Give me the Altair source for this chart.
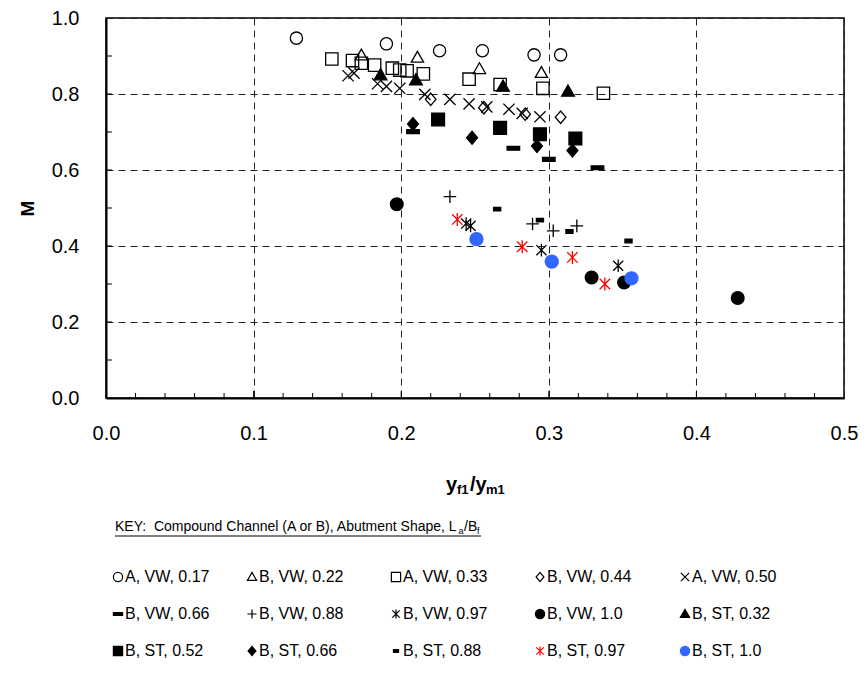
import altair as alt
import pandas as pd

# ---------------- data ----------------
series_names = [
    "A, VW, 0.17", "B, VW, 0.22", "A, VW, 0.33", "B, VW, 0.44", "A, VW, 0.50",
    "B, VW, 0.66", "B, VW, 0.88", "B, VW, 0.97", "B, VW, 1.0", "B, ST, 0.32",
    "B, ST, 0.52", "B, ST, 0.66", "B, ST, 0.88", "B, ST, 0.97", "B, ST, 1.0",
]

x_a_vw_017 = [0.129, 0.190, 0.226, 0.255, 0.290, 0.308]
y_a_vw_017 = [0.947, 0.932, 0.914, 0.914, 0.903, 0.903]

x_b_vw_022 = [0.173, 0.211, 0.253, 0.295]
y_b_vw_022 = [0.902, 0.896, 0.866, 0.856]

x_a_vw_033 = [0.153, 0.167, 0.173, 0.182, 0.194, 0.199, 0.204, 0.215, 0.246, 0.267, 0.296, 0.337]
y_a_vw_033 = [0.892, 0.888, 0.881, 0.876, 0.868, 0.863, 0.861, 0.853, 0.839, 0.825, 0.815, 0.802]

x_b_vw_044 = [0.220, 0.256, 0.284, 0.308]
y_b_vw_044 = [0.786, 0.764, 0.747, 0.739]

x_a_vw_050 = [0.164, 0.168, 0.184, 0.190, 0.199, 0.216, 0.233, 0.246, 0.258, 0.273, 0.282, 0.294]
y_a_vw_050 = [0.848, 0.855, 0.827, 0.820, 0.815, 0.799, 0.786, 0.774, 0.766, 0.760, 0.749, 0.740]

x_b_vw_066 = [0.208, 0.276, 0.300, 0.333]
y_b_vw_066 = [0.701, 0.657, 0.628, 0.606]

x_b_vw_088 = [0.233, 0.289, 0.303, 0.319]
y_b_vw_088 = [0.530, 0.458, 0.440, 0.453]

x_b_vw_097 = [0.244, 0.247, 0.295, 0.347]
y_b_vw_097 = [0.459, 0.453, 0.389, 0.348]

x_b_vw_100 = [0.197, 0.329, 0.351, 0.428]
y_b_vw_100 = [0.510, 0.317, 0.304, 0.263]

x_b_st_032 = [0.186, 0.210, 0.269, 0.313]
y_b_st_032 = [0.850, 0.837, 0.820, 0.807]

x_b_st_052 = [0.225, 0.267, 0.294, 0.318]
y_b_st_052 = [0.733, 0.711, 0.694, 0.683]

x_b_st_066 = [0.208, 0.248, 0.292, 0.316]
y_b_st_066 = [0.721, 0.685, 0.663, 0.651]

x_b_st_088 = [0.265, 0.294, 0.314, 0.354]
y_b_st_088 = [0.497, 0.468, 0.438, 0.413]

x_b_st_097 = [0.238, 0.282, 0.316, 0.338]
y_b_st_097 = [0.470, 0.398, 0.370, 0.300]

x_b_st_100 = [0.251, 0.302, 0.356]
y_b_st_100 = [0.418, 0.359, 0.315]

all_x = [x_a_vw_017, x_b_vw_022, x_a_vw_033, x_b_vw_044, x_a_vw_050, x_b_vw_066, x_b_vw_088,
         x_b_vw_097, x_b_vw_100, x_b_st_032, x_b_st_052, x_b_st_066, x_b_st_088, x_b_st_097, x_b_st_100]
all_y = [y_a_vw_017, y_b_vw_022, y_a_vw_033, y_b_vw_044, y_a_vw_050, y_b_vw_066, y_b_vw_088,
         y_b_vw_097, y_b_vw_100, y_b_st_032, y_b_st_052, y_b_st_066, y_b_st_088, y_b_st_097, y_b_st_100]

x_tick_labels = [0.0, 0.1, 0.2, 0.3, 0.4, 0.5]
y_tick_labels = [0.0, 0.2, 0.4, 0.6, 0.8, 1.0]
x_minor_ticks = [0.02, 0.04, 0.06, 0.08, 0.12, 0.14, 0.16, 0.18, 0.22, 0.24, 0.26, 0.28,
                 0.32, 0.34, 0.36, 0.38, 0.42, 0.44, 0.46, 0.48]
x_major_ticks = [0.1, 0.2, 0.3, 0.4]
y_ticks = [0.1, 0.2, 0.3, 0.4, 0.5, 0.6, 0.7, 0.8, 0.9]

rows = []
for order, (name, xs, ys) in enumerate(zip(series_names, all_x, all_y)):
    for xv, yv in zip(xs, ys):
        rows.append({"series": name, "x": xv, "y": yv, "order": order})
df = pd.DataFrame(rows)

# ---------------- styles ----------------
TRI = "M0,-1L1,0.75L-1,0.75Z"
DIA = "M0,-1L0.85,0L0,1L-0.85,0Z"
XSH = "M-0.9,-0.9L0.9,0.9M-0.9,0.9L0.9,-0.9"
LDASH = "M-1,-0.3L1,-0.3L1,0.3L-1,0.3Z"
PLUS = "M-1,0L1,0M0,-1L0,1"
AST = "M0,-1L0,1M-0.8,-0.8L0.8,0.8M-0.8,0.8L0.8,-0.8"
SDASH = "M-0.55,-0.28L0.55,-0.28L0.55,0.28L-0.55,0.28Z"

shape_range = ["circle", TRI, "square", DIA, XSH, LDASH, PLUS, AST, "circle", TRI,
               "square", DIA, SDASH, AST, "circle"]
T = "transparent"
fill_range = [T, T, T, T, T, "black", T, T, "black", "black", "black", "black", "black", T, "#3366FF"]
stroke_range = ["black"] * 13 + ["#FF0000", "#3366FF"]
size_range = [150, 170, 170, 150, 150, 170, 150, 150, 160, 170, 170, 150, 170, 150, 160]

# legend grid (pixel layout of the key below the plot)
legend_col_x = [12, 146, 290, 434, 579]
legend_row_y = [559, 596, 633]

FONT = "Liberation Sans"
W, H = 738, 380

shape_scale = alt.Scale(domain=series_names, range=shape_range)
fill_scale = alt.Scale(domain=series_names, range=fill_range)
stroke_scale = alt.Scale(domain=series_names, range=stroke_range)

xscale = alt.Scale(domain=[0, 0.5], nice=False, zero=False)
yscale = alt.Scale(domain=[0, 1.0], nice=False, zero=False)

points = alt.Chart(df).mark_point(opacity=1, strokeWidth=1.3).encode(
    x=alt.X("x:Q", scale=xscale, axis=alt.Axis(
        values=x_tick_labels, format=".1f", title=None, ticks=False,
        grid=True, gridDash=[7, 5], gridColor="#222", gridWidth=1,
        labelFontSize=20, labelFont=FONT, labelColor="black", labelPadding=25,
        domainColor="black", domainWidth=2, labelFlush=False)),
    y=alt.Y("y:Q", scale=yscale, axis=alt.Axis(
        values=y_tick_labels, format=".1f", title="M", ticks=False,
        grid=True, gridDash=[7, 5], gridColor="#222", gridWidth=1,
        labelFontSize=20, labelFont=FONT, labelColor="black", labelPadding=27,
        domainColor="black", domainWidth=2, labelFlush=False,
        titleFont=FONT, titleFontSize=19, titleFontWeight="bold", titleColor="black",
        titlePadding=14)),
    shape=alt.Shape("series:N", scale=shape_scale, legend=None),
    fill=alt.Fill("series:N", scale=fill_scale, legend=None),
    stroke=alt.Stroke("series:N", scale=stroke_scale, legend=None),
    size=alt.Size("series:N", scale=alt.Scale(domain=series_names, range=size_range), legend=None),
    order=alt.Order("order:Q"),
)

minor = alt.Chart(pd.DataFrame({"t": x_minor_ticks})).mark_rule(color="black", strokeWidth=1).encode(
    x=alt.X("t:Q", scale=xscale), y=alt.value(H), y2=alt.value(H - 5))
major = alt.Chart(pd.DataFrame({"t": x_major_ticks})).mark_rule(color="black", strokeWidth=1).encode(
    x=alt.X("t:Q", scale=xscale), y=alt.value(H), y2=alt.value(H - 7))
yt = alt.Chart(pd.DataFrame({"t": y_ticks})).mark_rule(color="black", strokeWidth=1).encode(
    y=alt.Y("t:Q", scale=yscale), x=alt.value(0), x2=alt.value(6))

# ---- key (legend) built from the series list ----
leg_rows = []
for i, name in enumerate(series_names):
    leg_rows.append({"series": name, "px": legend_col_x[i % 5], "py": legend_row_y[i // 5],
                     "tx": legend_col_x[i % 5] + 7})
leg_df = pd.DataFrame(leg_rows)
leg_sym = alt.Chart(leg_df).mark_point(opacity=1, strokeWidth=1.2, size=85).encode(
    x=alt.X("px:Q", scale=None), y=alt.Y("py:Q", scale=None),
    shape=alt.Shape("series:N", scale=shape_scale, legend=None),
    fill=alt.Fill("series:N", scale=fill_scale, legend=None),
    stroke=alt.Stroke("series:N", scale=stroke_scale, legend=None),
)
leg_txt = alt.Chart(leg_df).mark_text(font=FONT, fontSize=16, align="left", baseline="middle",
                                      color="black").encode(
    x=alt.X("tx:Q", scale=None), y=alt.Y("py:Q", scale=None), text="series:N")

# axis title with subscripts and key title
texts = pd.DataFrame([
    {"txt": "y", "px": 340, "py": 467},
    {"txt": "/y", "px": 364, "py": 467},
])
subs = pd.DataFrame([
    {"txt": "f1", "px": 351, "py": 472},
    {"txt": "m1", "px": 380, "py": 472},
])
xt_big = alt.Chart(texts).mark_text(font=FONT, fontWeight="bold", fontSize=20, align="left",
                                    baseline="middle", color="black").encode(
    x=alt.X("px:Q", scale=None), y=alt.Y("py:Q", scale=None), text="txt:N")
xt_sub = alt.Chart(subs).mark_text(font=FONT, fontWeight="bold", fontSize=13, align="left",
                                   baseline="middle", color="black").encode(
    x=alt.X("px:Q", scale=None), y=alt.Y("py:Q", scale=None), text="txt:N")

key_main = pd.DataFrame([
    {"txt": "KEY:\u00a0 Compound Channel (A or B), Abutment Shape, L", "px": 9, "py": 509},
    {"txt": "/B", "px": 358, "py": 509},
])
key_sub = pd.DataFrame([
    {"txt": "a", "px": 352.5, "py": 513},
    {"txt": "f", "px": 371, "py": 513},
])
k1 = alt.Chart(key_main).mark_text(font=FONT, fontSize=14, align="left", baseline="middle",
                                   color="black").encode(
    x=alt.X("px:Q", scale=None), y=alt.Y("py:Q", scale=None), text="txt:N")
k2 = alt.Chart(key_sub).mark_text(font=FONT, fontSize=9, align="left", baseline="middle",
                                  color="black").encode(
    x=alt.X("px:Q", scale=None), y=alt.Y("py:Q", scale=None), text="txt:N")
underline = alt.Chart(pd.DataFrame({"a": [0]})).mark_rule(color="black", strokeWidth=1).encode(
    x=alt.value(9), x2=alt.value(375), y=alt.value(518))

chart = alt.layer(points, minor, major, yt, xt_big, xt_sub, k1, k2, underline,
                  leg_sym, leg_txt).properties(
    width=W, height=H,
    autosize=alt.AutoSizeParams(type="none"),
    padding={"left": 106, "top": 18, "right": 868 - 106 - W, "bottom": 677 - 18 - H},
    background="white",
).configure_view(stroke="black", strokeWidth=1.5)

chart.save("out.html", embed_options={"renderer": "svg", "actions": False})
